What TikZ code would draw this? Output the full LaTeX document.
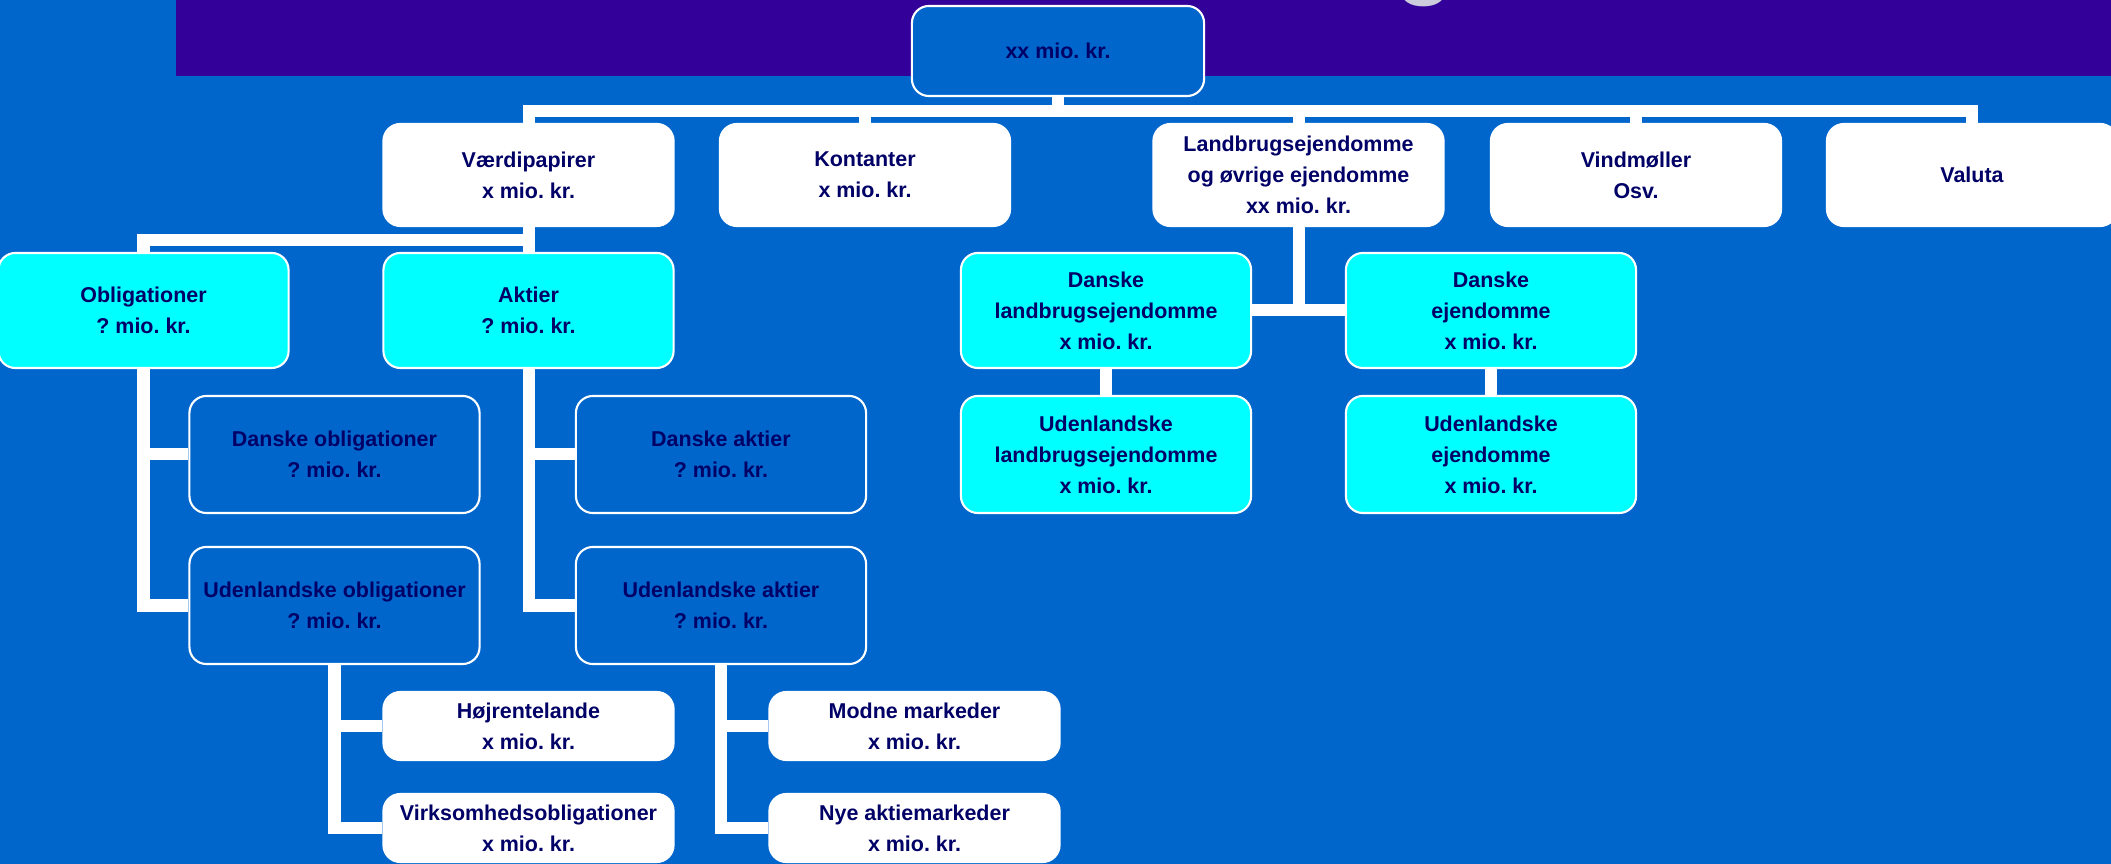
\documentclass[tikz,border=0pt]{standalone}
\usepackage{fontspec}
\setmainfont{Liberation Sans}
\usetikzlibrary{positioning}
\frenchspacing

\definecolor{bgblue}{RGB}{0,102,204}
\definecolor{banner}{RGB}{51,0,153}
\definecolor{navy}{RGB}{0,0,102}
\definecolor{aqua}{RGB}{0,255,255}
\definecolor{titlegray}{RGB}{204,204,221}

\begin{document}
\begin{tikzpicture}[x=0.01cm, y=-0.01cm,
      box/.style={rectangle, rounded corners=0.17cm, draw=white, line width=0.6pt, minimum width=2.9cm, inner sep=0pt, align=center, text=navy, font=\fontsize{6.1}{8.8}\selectfont\bfseries},
      whitebox/.style={box, fill=white},
      cyanbox/.style={box, fill=aqua},
      bluebox/.style={box, fill=bgblue},
      link/.style={draw=white, line width=0.12cm, line join=miter}]

      % Background
      \useasboundingbox (0,0) rectangle (2111,864);
      \fill[bgblue] (0,0) rectangle (2111,864);
      \fill[banner] (176,0) rectangle (2111,76);
      \node[font=\fontsize{32}{32}\selectfont, text=titlegray, anchor=base west, inner sep=0pt] (titleg) at (1393,-16) {g};

      % Top
      \node[bluebox, minimum width=2.92cm, minimum height=0.9cm] (root) at (1058,51) {xx mio. kr.};

      % Level 1
      \node[whitebox, minimum height=1.02cm] (vaerdi) at (528.5,175) {Værdipapirer\\x mio. kr.};
      \node[whitebox, minimum height=1.02cm] (kontanter) at (865,175) {Kontanter\\x mio. kr.};
      \node[whitebox, minimum height=1.02cm] (landbrug) at (1298.5,175) {Landbrugsejendomme\\og øvrige ejendomme\\xx mio. kr.};
      \node[whitebox, minimum height=1.02cm] (vind) at (1636,175) {Vindmøller\\Osv.};
      \node[whitebox, minimum height=1.02cm] (valuta) at (1972,175) {Valuta};

      % Level 2
      \node[cyanbox, minimum height=1.15cm] (oblig) at (143.5,310.5) {Obligationer\\? mio. kr.};
      \node[cyanbox, minimum height=1.15cm] (aktier) at (528.5,310.5) {Aktier\\? mio. kr.};
      \node[cyanbox, minimum height=1.15cm] (danlandbrug) at (1106,310.5) {Danske\\landbrugsejendomme\\x mio. kr.};
      \node[cyanbox, minimum height=1.15cm] (danejend) at (1491,310.5) {Danske\\ejendomme\\x mio. kr.};

      % Level 3
      \node[bluebox, minimum height=1.17cm] (danoblig) at (334.5,454.5) {Danske obligationer\\? mio. kr.};
      \node[bluebox, minimum height=1.17cm] (udoblig) at (334.5,605.5) {Udenlandske obligationer\\? mio. kr.};
      \node[bluebox, minimum height=1.17cm] (danaktier) at (721,454.5) {Danske aktier\\? mio. kr.};
      \node[bluebox, minimum height=1.17cm] (udaktier) at (721,605.5) {Udenlandske aktier\\? mio. kr.};
      \node[cyanbox, minimum height=1.17cm] (udlandbrug) at (1106,454.5) {Udenlandske\\landbrugsejendomme\\x mio. kr.};
      \node[cyanbox, minimum height=1.17cm] (udejend) at (1491,454.5) {Udenlandske\\ejendomme\\x mio. kr.};

      % Level 4
      \node[whitebox, minimum height=0.68cm] (hoej) at (528.5,726) {Højrentelande\\x mio. kr.};
      \node[whitebox, minimum height=0.68cm] (virk) at (528.5,828) {Virksomhedsobligationer\\x mio. kr.};
      \node[whitebox, minimum height=0.68cm] (modne) at (914.5,726) {Modne markeder\\x mio. kr.};
      \node[whitebox, minimum height=0.68cm] (nye) at (914.5,828) {Nye aktiemarkeder\\x mio. kr.};

      % Lines
      \coordinate (bus) at (1058,111);
      \coordinate (vsplit) at (528.5,240);
      \draw[link] (root.south) -- (root.south |- bus);
      \draw[link] (vaerdi.north) -- (vaerdi.north |- bus) -- (valuta.north |- bus) -- (valuta.north);
      \foreach \n in {kontanter, landbrug, vind} {
        \draw[link] (\n.north |- bus) -- (\n.north);
      }

      \draw[link] (vaerdi.south) -- (aktier.north);
      \draw[link] (oblig.north) -- (oblig.north |- vsplit) -- (vsplit);

      \foreach \p/\a/\b in {oblig/danoblig/udoblig, aktier/danaktier/udaktier, udoblig/hoej/virk, udaktier/modne/nye} {
        \draw[link] (\p.south) -- (\p.south |- \b.west) -- (\b.west);
        \draw[link] (\p.south |- \a.west) -- (\a.west);
      }

      \draw[link] (landbrug.south) -- (landbrug.south |- danlandbrug.east);
      \draw[link] (danlandbrug.east) -- (danejend.west);
      \draw[link] (danlandbrug) -- (udlandbrug);
      \draw[link] (danejend) -- (udejend);
    \end{tikzpicture}
\end{document}
